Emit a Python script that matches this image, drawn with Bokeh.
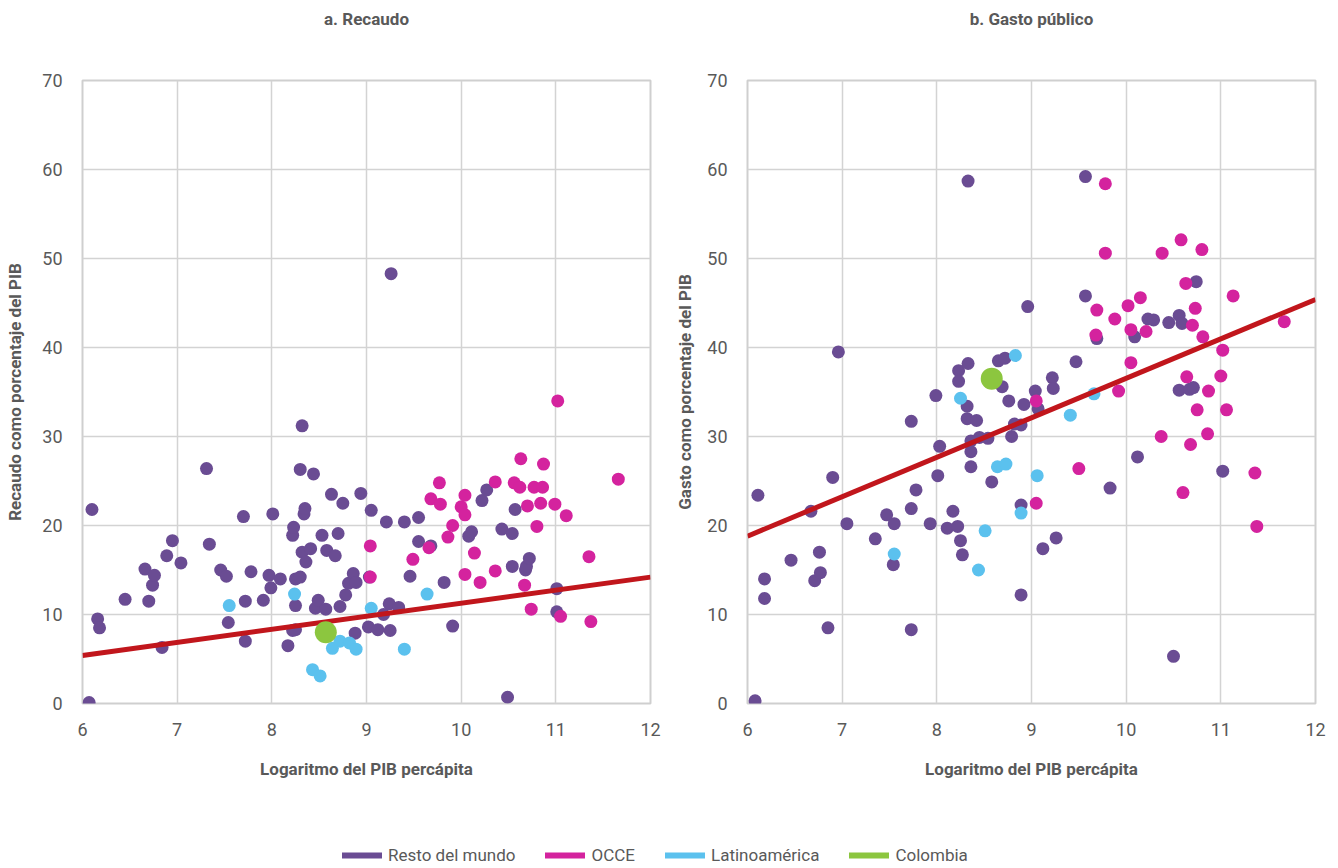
from bokeh.plotting import figure
from bokeh.models import Range1d, FixedTicker, Legend, LegendItem, Label
from bokeh.layouts import column, row
from bokeh.embed import file_html
from bokeh.resources import INLINE

# ---------------- data ----------------
x_ticks = [6, 7, 8, 9, 10, 11, 12]
y_ticks = [0, 10, 20, 30, 40, 50, 60, 70]
series_names = ["Resto del mundo", "OCCE", "Latinoamérica", "Colombia"]
panel_titles = ["a. Recaudo", "b. Gasto público"]

# Panel a: Recaudo
rec_resto_x = [6.07, 6.10, 6.16, 6.18, 6.45, 6.66, 6.70, 6.74, 6.76, 6.84, 6.89, 6.95, 7.04,
               7.31, 7.34, 7.46, 7.52, 7.54, 7.70, 7.72, 7.72, 7.78, 7.91, 7.97, 7.99, 8.01,
               8.09, 8.17, 8.22, 8.23, 8.22, 8.25, 8.25, 8.25, 8.30, 8.30, 8.32, 8.32, 8.34,
               8.35, 8.36, 8.41, 8.44, 8.46, 8.49, 8.53, 8.57, 8.58, 8.63, 8.67, 8.70, 8.72,
               8.75, 8.78, 8.81, 8.86, 8.88, 8.89, 8.94, 9.02, 9.03, 9.05, 9.12, 9.18, 9.21,
               9.24, 9.25, 9.26, 9.34, 9.40, 9.46, 9.55, 9.55, 9.68, 9.82, 9.91, 10.08, 10.11,
               10.22, 10.27, 10.43, 10.49, 10.54, 10.54, 10.57, 10.68, 10.69, 10.72, 11.01, 11.01]
rec_resto_y = [0.1, 21.8, 9.5, 8.5, 11.7, 15.1, 11.5, 13.3, 14.4, 6.3, 16.6, 18.3, 15.8,
               26.4, 17.9, 15.0, 14.3, 9.1, 21.0, 11.5, 7.0, 14.8, 11.6, 14.4, 13.0, 21.3,
               14.0, 6.5, 18.9, 19.8, 8.2, 8.3, 14.0, 11.0, 14.2, 26.3, 31.2, 17.0, 21.3,
               21.9, 15.9, 17.4, 25.8, 10.7, 11.6, 18.9, 10.6, 17.2, 23.5, 16.6, 19.1, 10.9,
               22.5, 12.2, 13.5, 14.6, 7.9, 13.6, 23.6, 8.6, 14.2, 21.7, 8.3, 10.0, 20.4,
               11.2, 8.2, 48.3, 10.8, 20.4, 14.3, 20.9, 18.2, 17.7, 13.6, 8.7, 18.8, 19.3,
               22.8, 24.0, 19.6, 0.7, 19.1, 15.4, 21.8, 15.0, 15.4, 16.3, 12.9, 10.3]
rec_occe_x = [9.04, 9.04, 9.49, 9.66, 9.68, 9.77, 9.78, 9.86, 9.91, 10.00, 10.04, 10.04,
              10.04, 10.14, 10.20, 10.36, 10.36, 10.56, 10.62, 10.63, 10.67, 10.70, 10.74,
              10.77, 10.80, 10.84, 10.86, 10.87, 10.99, 11.02, 11.05, 11.11, 11.35, 11.37, 11.66]
rec_occe_y = [17.7, 14.2, 16.2, 17.5, 23.0, 24.8, 22.4, 18.7, 20.0, 22.1, 21.2, 23.4,
              14.5, 16.9, 13.6, 24.9, 14.9, 24.8, 24.3, 27.5, 13.3, 22.2, 10.6,
              24.3, 19.9, 22.5, 24.3, 26.9, 22.4, 34.0, 9.8, 21.1, 16.5, 9.2, 25.2]
rec_latam_x = [7.55, 8.24, 8.43, 8.51, 8.64, 8.72, 8.82, 8.89, 9.05, 9.40, 9.64]
rec_latam_y = [11.0, 12.3, 3.8, 3.1, 6.2, 7.0, 6.8, 6.1, 10.7, 6.1, 12.3]
rec_col_x = [8.57]
rec_col_y = [8.0]
rec_fit_x = [6, 12]
rec_fit_y = [5.4, 14.2]

# Panel b: Gasto público
gas_resto_x = [6.08, 6.11, 6.18, 6.18, 6.46, 6.67, 6.71, 6.77, 6.76, 6.85, 6.90, 6.96, 7.05,
               7.35, 7.47, 7.54, 7.55, 7.73, 7.73, 7.73, 7.78, 7.93, 7.99, 8.01, 8.03, 8.11,
               8.17, 8.22, 8.23, 8.23, 8.25, 8.27, 8.32, 8.32, 8.33, 8.33, 8.36, 8.36, 8.36,
               8.42, 8.45, 8.54, 8.58, 8.65, 8.69, 8.72, 8.76, 8.79, 8.82, 8.89, 8.89, 8.89,
               8.92, 8.96, 9.04, 9.07, 9.12, 9.22, 9.23, 9.26, 9.47, 9.57, 9.57, 9.69, 9.83,
               10.09, 10.12, 10.23, 10.29, 10.45, 10.50, 10.56, 10.59, 10.56, 10.67, 10.71,
               10.74, 11.02]
gas_resto_y = [0.3, 23.4, 14.0, 11.8, 16.1, 21.6, 13.8, 14.7, 17.0, 8.5, 25.4, 39.5, 20.2,
               18.5, 21.2, 15.6, 20.2, 31.7, 21.9, 8.3, 24.0, 20.2, 34.6, 25.6, 28.9, 19.7,
               21.6, 19.9, 37.4, 36.2, 18.3, 16.7, 33.4, 32.0, 58.7, 38.2, 29.5, 28.3, 26.6,
               31.8, 29.9, 29.8, 24.9, 38.5, 35.6, 38.8, 34.0, 30.0, 31.4, 31.3, 22.3, 12.2,
               33.6, 44.6, 35.1, 33.1, 17.4, 36.6, 35.4, 18.6, 38.4, 59.2, 45.8, 41.0, 24.2,
               41.2, 27.7, 43.2, 43.1, 42.8, 5.3, 43.6, 42.7, 35.2, 35.3, 35.5,
               47.4, 26.1]
gas_occe_x = [9.05, 9.05, 9.50, 9.68, 9.69, 9.78, 9.78, 9.88, 9.92, 10.02, 10.05, 10.05,
              10.15, 10.21, 10.37, 10.38, 10.58, 10.60, 10.63, 10.64, 10.68, 10.70, 10.73,
              10.75, 10.80, 10.81, 10.86, 10.87, 11.00, 11.02, 11.06, 11.13, 11.36, 11.38, 11.67]
gas_occe_y = [34.0, 22.5, 26.4, 41.4, 44.2, 58.4, 50.6, 43.2, 35.1, 44.7, 42.0, 38.3,
              45.6, 41.8, 30.0, 50.6, 52.1, 23.7, 47.2, 36.7, 29.1, 42.5, 44.4,
              33.0, 51.0, 41.2, 30.3, 35.1, 36.8, 39.7, 33.0, 45.8, 25.9, 19.9, 42.9]
gas_latam_x = [7.55, 8.25, 8.44, 8.51, 8.64, 8.73, 8.83, 8.89, 9.06, 9.41, 9.66]
gas_latam_y = [16.8, 34.3, 15.0, 19.4, 26.6, 26.9, 39.1, 21.4, 25.6, 32.4, 34.8]
gas_col_x = [8.58]
gas_col_y = [36.5]
gas_fit_x = [6, 12]
gas_fit_y = [18.8, 45.4]

# ---------------- style ----------------
C_RESTO = "#6a4c93"
C_OCCE = "#d4239e"
C_LATAM = "#5bc1ee"
C_COL = "#8cc63f"
C_FIT = "#c1161c"
TXT = "#595959"
GRID = "#d3d3d3"
FONT = "Roboto"

HEADER_H = 40
LEFT_W, RIGHT_W = 664, 670
LEFT_B1, RIGHT_B1 = 82, 14
LEFT_B2, RIGHT_B2 = 83, 19


def make_panel(ylabel, resto, occe, latam, col, fit, width, left_b, right_b, ylab_standoff):
    p = figure(width=width, height=753, x_range=Range1d(6, 12), y_range=Range1d(0, 70),
               output_backend="svg", toolbar_location=None,
               min_border_left=left_b, min_border_right=right_b,
               min_border_top=80 - HEADER_H, min_border_bottom=90)

    p.xaxis.ticker = FixedTicker(ticks=x_ticks)
    p.yaxis.ticker = FixedTicker(ticks=y_ticks)
    for ax in (p.xaxis, p.yaxis):
        ax.axis_line_color = None
        ax.major_tick_line_color = None
        ax.minor_tick_line_color = None
        ax.major_tick_out = 0
        ax.major_tick_in = 0
        ax.minor_tick_out = 0
        ax.major_label_text_font = FONT
        ax.major_label_text_font_size = "18px"
        ax.major_label_text_color = TXT
        ax.axis_label_text_font = FONT
        ax.axis_label_text_font_size = "17px"
        ax.axis_label_text_font_style = "bold"
        ax.axis_label_text_color = TXT
    p.xaxis.axis_label = "Logaritmo del PIB percápita"
    p.xaxis.major_label_standoff = 19
    p.xaxis.axis_label_standoff = 20
    p.yaxis.axis_label = ylabel
    p.yaxis.major_label_standoff = 20
    p.yaxis.axis_label_standoff = ylab_standoff

    p.xgrid.ticker = FixedTicker(ticks=x_ticks)
    p.ygrid.ticker = FixedTicker(ticks=y_ticks)
    p.grid.grid_line_color = GRID
    p.grid.grid_line_width = 1.5
    p.outline_line_color = "#cfcfcf"
    p.outline_line_width = 2

    p.scatter(resto[0], resto[1], size=13, fill_color=C_RESTO, line_color=None)
    p.scatter(occe[0], occe[1], size=13, fill_color=C_OCCE, line_color=None)
    p.scatter(latam[0], latam[1], size=13, fill_color=C_LATAM, line_color=None)
    p.line(fit[0], fit[1], line_color=C_FIT, line_width=5)
    p.scatter(col[0], col[1], size=22, fill_color=C_COL, line_color=None)
    return p


p1 = make_panel("Recaudo como porcentaje del PIB",
                (rec_resto_x, rec_resto_y), (rec_occe_x, rec_occe_y),
                (rec_latam_x, rec_latam_y), (rec_col_x, rec_col_y),
                (rec_fit_x, rec_fit_y), LEFT_W, LEFT_B1, RIGHT_B1, 14)
p2 = make_panel("Gasto como porcentaje del PIB",
                (gas_resto_x, gas_resto_y), (gas_occe_x, gas_occe_y),
                (gas_latam_x, gas_latam_y), (gas_col_x, gas_col_y),
                (gas_fit_x, gas_fit_y), RIGHT_W, LEFT_B2, RIGHT_B2, 9)

# header strip with the two panel titles (centred over each plot frame)
hd = figure(width=LEFT_W + RIGHT_W, height=HEADER_H, x_range=Range1d(0, 1), y_range=Range1d(0, 1),
            output_backend="svg", toolbar_location=None,
            x_axis_location=None, y_axis_location=None, min_border=0)
hd.grid.visible = False
hd.outline_line_color = None
centers = [LEFT_B1 + (LEFT_W - LEFT_B1 - RIGHT_B1) / 2,
           LEFT_W + LEFT_B2 + (RIGHT_W - LEFT_B2 - RIGHT_B2) / 2]
for t, cx in zip(panel_titles, centers):
    hd.add_layout(Label(x=cx, y=HEADER_H - 18, x_units="screen", y_units="screen", text=t,
                        text_align="center", text_baseline="middle", text_font=FONT,
                        text_font_size="17px", text_font_style="bold", text_color=TXT))

# legend strip
lg = figure(width=LEFT_W + RIGHT_W, height=72, x_range=Range1d(0, 1), y_range=Range1d(0, 1),
            output_backend="svg", toolbar_location=None,
            x_axis_location=None, y_axis_location=None, min_border=0)
lg.grid.visible = False
lg.outline_line_color = None
items = []
for name, c in zip(series_names, [C_RESTO, C_OCCE, C_LATAM, C_COL]):
    r = lg.line(x=[-5, -4], y=[-5, -5], line_color=c, line_width=6, line_cap="round")
    items.append(LegendItem(label=name, renderers=[r]))
legend = Legend(items=items, orientation="horizontal", location=(342, 0),
                border_line_color=None, background_fill_alpha=0, padding=0, margin=0,
                spacing=30, glyph_width=40, glyph_height=20, label_standoff=6,
                label_text_font=FONT, label_text_font_size="17px", label_text_color=TXT)
lg.add_layout(legend)

layout = column(hd, row(p1, p2), lg)
open("out.html", "w").write(file_html(layout, INLINE))
